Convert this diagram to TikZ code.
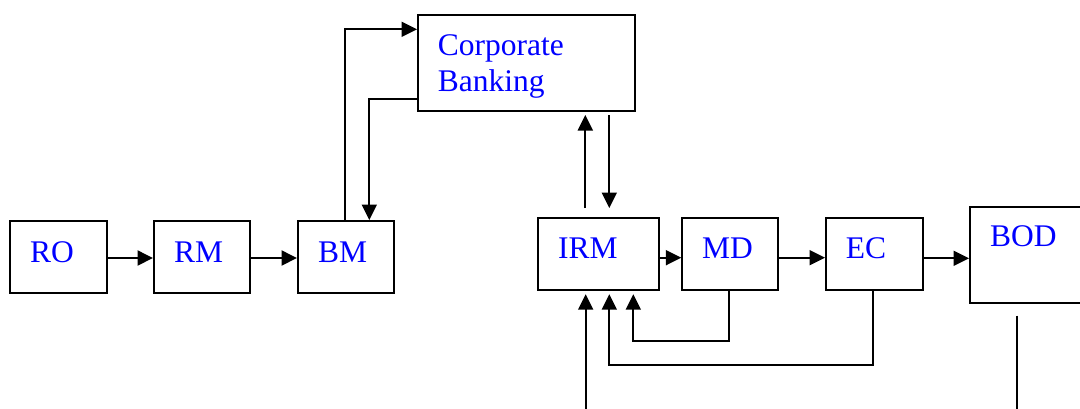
\documentclass[tikz,border=0pt]{standalone}
\usepackage{fontspec}
\setmainfont{Liberation Serif}
\usetikzlibrary{arrows.meta}
\definecolor{txtblue}{RGB}{0,0,255}
\begin{document}
\begin{tikzpicture}[x=1pt,y=-1pt,
  box/.style={draw=black,line width=2pt,fill=white,inner sep=0pt,anchor=north west},
  lbl/.style={text=txtblue,font=\fontsize{31.5}{36.7}\selectfont,inner sep=0pt,anchor=base west,align=left},
  arr/.style={draw=black,line width=2pt,-{Triangle[length=15.5pt,width=15pt]}},
  fb/.style={draw=black,line width=1.7pt},
  fbarr/.style={fb,-{Triangle[length=15.5pt,width=15pt]}}]
\path[use as bounding box] (0,0) rectangle (1080,408);
\clip (0,0) rectangle (1080,408);
% boxes
\node[box,minimum width=97pt,minimum height=72pt] (RO) at (9,220) {};
\node[box,minimum width=96pt,minimum height=72pt] (RM) at (153,220) {};
\node[box,minimum width=96pt,minimum height=72pt] (BM) at (297,220) {};
\node[box,minimum width=216.5pt,minimum height=96pt] (CB) at (417,14) {};
\node[box,minimum width=120.5pt,minimum height=72.5pt] (IRM) at (537.3,216.7) {};
\node[box,minimum width=96pt,minimum height=72.5pt] (MD) at (681.3,216.7) {};
\node[box,minimum width=96.7pt,minimum height=72.5pt] (EC) at (825,216.7) {};
\node[box,minimum width=130pt,minimum height=96pt] (BOD) at (969,205.7) {};
% labels
\node[lbl] (tRO) at (30,262) {RO};
\node[lbl] (tRM) at (174,262) {RM};
\node[lbl] (tBM) at (318,262) {BM};
\node[lbl] (tCB) at (437.7,91.7) {Corporate\\Banking};
\node[lbl] (tIRM) at (558,258.3) {IRM};
\node[lbl] (tMD) at (702,258.3) {MD};
\node[lbl] (tEC) at (845.7,258.3) {EC};
\node[lbl] (tBOD) at (990,246) {BOD};
% free ends
\coordinate (upA) at (585.3,208);
\coordinate (dnA) at (609.3,208);
\coordinate (inB) at (585.7,412);
\coordinate (bodT) at (1016.7,315.7);
\coordinate (bodB) at (1016.7,412);
% main chain
\draw[arr] (RO.east |- 0,258) -- (RM.west |- 0,258);
\draw[arr] (RM.east |- 0,258) -- (BM.west |- 0,258);
\draw[arr] (IRM.east |- 0,257.7) -- (MD.west |- 0,257.7);
\draw[arr] (MD.east |- 0,257.7) -- (EC.west |- 0,257.7);
\draw[arr] (EC.east |- 0,258.3) -- (BOD.west |- 0,258.3);
% BM <-> Corporate Banking
\draw[arr] (BM.north -| 345,0) |- (CB.west |- 0,29.3);
\draw[arr] (CB.west |- 0,99) -| (BM.north -| 369.3,0);
% IRM <-> Corporate Banking
\draw[arr,shorten >=3pt] (upA) -- (CB.south -| upA);
\draw[arr,shorten <=3pt,shorten >=8.7pt] (CB.south -| dnA) -- (dnA |- IRM.north);
% feedback into IRM
\draw[arr,shorten >=3pt] (inB) -- (IRM.south -| inB);
\draw[fbarr,shorten >=3pt] (MD.south -| 729.3,0) -- (729.3,341) -- (633.3,341) -- (IRM.south -| 633.3,0);
\draw[fbarr,shorten >=3pt] (EC.south -| 873.3,0) -- (873.3,365) -- (609.3,365) -- (IRM.south -| 609.3,0);
% line below BOD
\draw[fb] (bodT) -- (bodB);
\end{tikzpicture}
\end{document}
